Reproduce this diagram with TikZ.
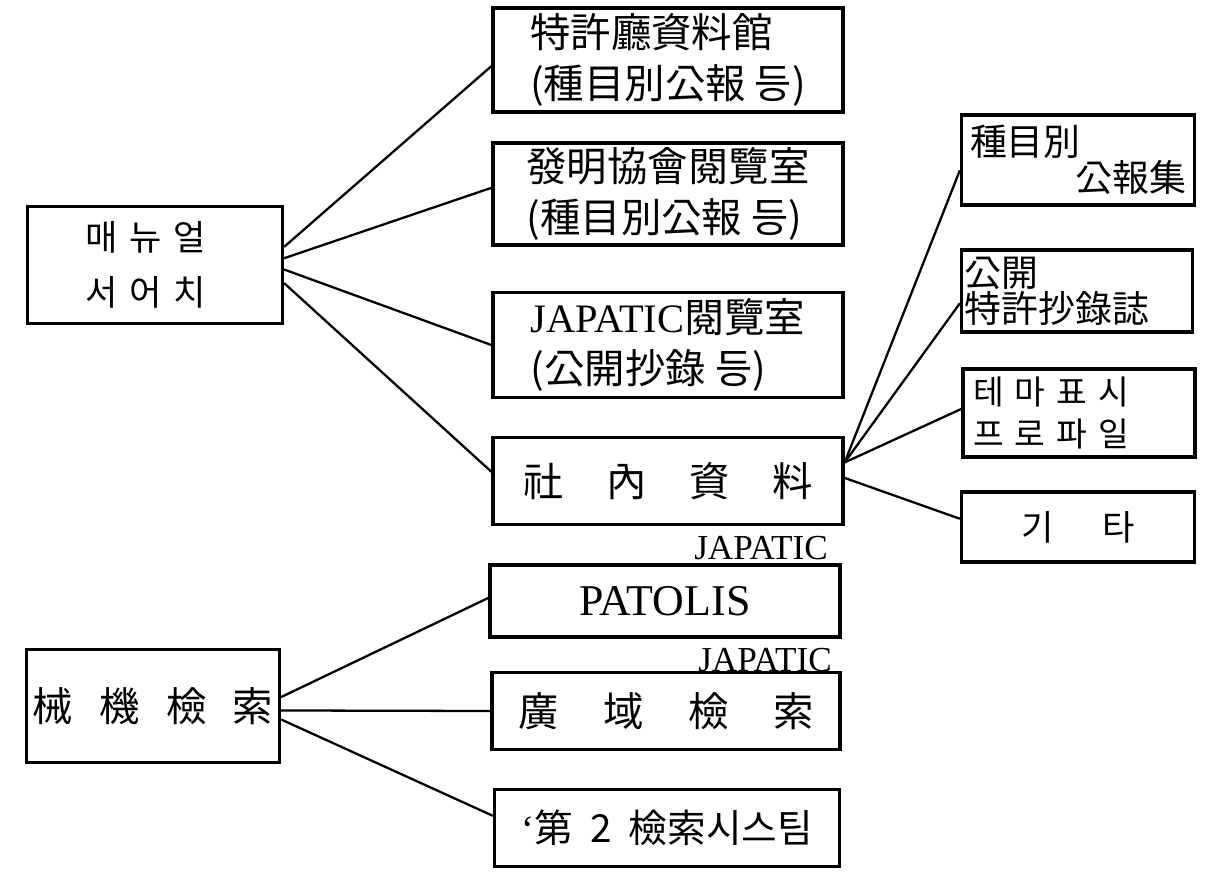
\documentclass[tikz,border=0pt]{standalone}
\usepackage{fontspec}
\setmainfont{Liberation Serif}
\newfontfamily\kr{Noto Sans CJK KR}
\begin{document}
\begin{tikzpicture}[
  x=0.02cm, y=-0.02cm,
  box/.style={draw, rectangle, line width=1.9pt, inner sep=0pt},
  link/.style={draw, line width=1.3pt},
  bigtxt/.style={font=\kr\fontsize{23}{29}\selectfont, align=left},
  midtxt/.style={font=\kr\fontsize{21}{20.5}\selectfont, align=left},
  smalltxt/.style={font=\kr\fontsize{19}{24.4}\selectfont, align=left}
]
\useasboundingbox (0,0) rectangle (1218,886);

% roots
\node[box, font=\kr\fontsize{20}{31}\selectfont, align=left, text width=2.8cm,
  minimum width=5.1cm, minimum height=2.34cm] (manual) at (155,265) {매 뉴 얼\\서 어 치};
\node[box, bigtxt, minimum width=5.06cm, minimum height=2.26cm] (machine) at (153,706)
  {械\hspace{0.65em}機\hspace{0.65em}檢\hspace{0.65em}索};

% middle column
\node[box, bigtxt, minimum width=7cm, minimum height=2.08cm] (b1) at (668,60) {特許廳資料館\\(種目別公報 등)};
\node[box, bigtxt, minimum width=7cm, minimum height=2.04cm] (b2) at (668,194) {發明協會閱覽室\\(種目別公報 등)};
\node[box, bigtxt, minimum width=7cm, minimum height=2.1cm] (b3) at (668,345) {{\rmfamily JAPATIC}閱覽室\\(公開抄錄 등)};
\node[box, bigtxt, minimum width=7cm, minimum height=1.74cm] (b4) at (668,481)
  {社\hspace{1.05em}內\hspace{1.05em}資\hspace{1.05em}料};
\node[box, font=\fontsize{25}{30}\selectfont, minimum width=7cm, minimum height=1.44cm] (patolis) at (665,601) {PATOLIS};
\node[box, bigtxt, minimum width=6.96cm, minimum height=1.54cm] (kwang) at (666,711)
  {廣\hspace{1.1em}域\hspace{1.1em}檢\hspace{1.1em}索};
\node[box, font=\kr\fontsize{22}{26}\selectfont, minimum width=6.9cm, minimum height=1.54cm] (second) at (667,828)
  {{\rmfamily `}第\hspace{0.45em}2\hspace{0.45em}檢索시스팀};
\node[font=\fontsize{20}{24}\selectfont] (jp1) at (761,548) {JAPATIC};
\node[font=\fontsize{20}{24}\selectfont] (jp2) at (765,660) {JAPATIC};

% right column
\node[box, midtxt, text width=4.32cm, minimum width=4.66cm, minimum height=1.8cm] (r1) at (1078,160)
  {種目別\\\hspace*{\fill}公報集};
\node[box, midtxt, text width=4.5cm, minimum width=4.62cm, minimum height=1.64cm] (r2) at (1077,291)
  {公開\\特許抄錄誌};
\node[box, smalltxt, text width=4.24cm, minimum width=4.64cm, minimum height=1.76cm] (r3) at (1079,413)
  {테 마 표 시\\프 로 파 일};
\node[box, font=\kr\fontsize{20}{24}\selectfont, minimum width=4.66cm, minimum height=1.4cm] (r4) at (1078,527)
  {기\hspace{1.4em}타};

% connectors
\draw[link] (manual.8) -- (b1.182);
\draw[link] (manual.3) -- (b2.178);
\draw[link] (manual.-2) -- (b3.west);
\draw[link] (manual.-8) -- (b4.177);
\draw[link] (b4.6) -- (r1.185);
\draw[link] (b4.6) -- (r2.186);
\draw[link] (b4.6) -- (r3.178);
\draw[link] (b4.1) -- (r4.176);
\draw[link] (machine.4) -- (patolis.179);
\draw[link] (machine.-2) -- (kwang.west);
\draw[link] (machine.-6) -- (second.176);
\end{tikzpicture}
\end{document}
